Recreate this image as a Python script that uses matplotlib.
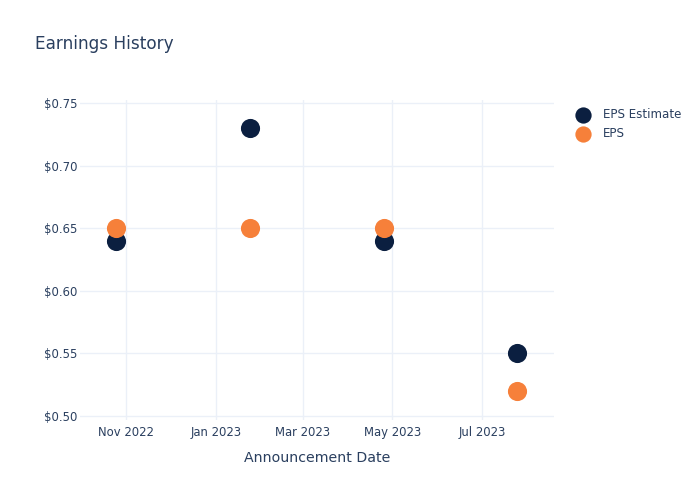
import numpy as np
import pandas as pd
import matplotlib
matplotlib.use("Agg")
import matplotlib.pyplot as plt
import matplotlib.dates as mdates
from matplotlib.ticker import FuncFormatter

# Earnings data
dates = pd.to_datetime(["2022-10-25", "2023-01-24", "2023-04-25", "2023-07-25"])
eps_estimate = [0.64, 0.73, 0.64, 0.55]
eps_actual = [0.65, 0.65, 0.65, 0.52]
tick_dates = pd.to_datetime(["2022-11-01", "2023-01-01", "2023-03-01",
                             "2023-05-01", "2023-07-01"])
y_ticks = [0.50, 0.55, 0.60, 0.65, 0.70, 0.75]

text_col = "#2a3f5f"
grid_col = "#ebf0f8"
navy = "#0b1f40"
orange = "#f6803a"

plt.rcParams['font.family'] = ['DejaVu Sans']

fig = plt.figure(figsize=(7, 5), dpi=100)
ax = fig.add_axes([80/700, 80/500, 474/700, 320/500])

ax.scatter(dates, eps_estimate, s=190, color=navy, label="EPS Estimate",
           zorder=3, linewidths=0)
ax.scatter(dates, eps_actual, s=190, color=orange, label="EPS",
           zorder=4, linewidths=0)

ax.set_xlim(pd.Timestamp("2022-09-30 16:00"), pd.Timestamp("2023-08-18 20:00"))
ax.set_ylim(0.4968, 0.7524)

ax.set_xticks(tick_dates)
ax.xaxis.set_major_formatter(mdates.DateFormatter("%b %Y"))
ax.set_yticks(y_ticks)
ax.yaxis.set_major_formatter(FuncFormatter(lambda v, p: "${:.2f}".format(v)))

ax.grid(True, color=grid_col, linewidth=1)
ax.set_axisbelow(True)
for s in ax.spines.values():
    s.set_visible(False)
ax.tick_params(length=0, labelsize=8.4, colors=text_col)
ax.tick_params(axis='x', pad=4)
ax.tick_params(axis='y', pad=2)

ax.set_xlabel("Announcement Date", fontsize=10.2, color=text_col, labelpad=9)

fig.text(35/700, 1 - 44/500, "Earnings History", fontsize=12.2,
         color=text_col, va="center", ha="left")

leg = fig.legend(loc="upper left", bbox_to_anchor=(566/700, 1 - 103/500),
                 frameon=False, fontsize=8.6, labelcolor=text_col,
                 handletextpad=0.7, labelspacing=0.5, markerscale=0.85,
                 borderaxespad=0)

fig.savefig("out.png", dpi=100)
